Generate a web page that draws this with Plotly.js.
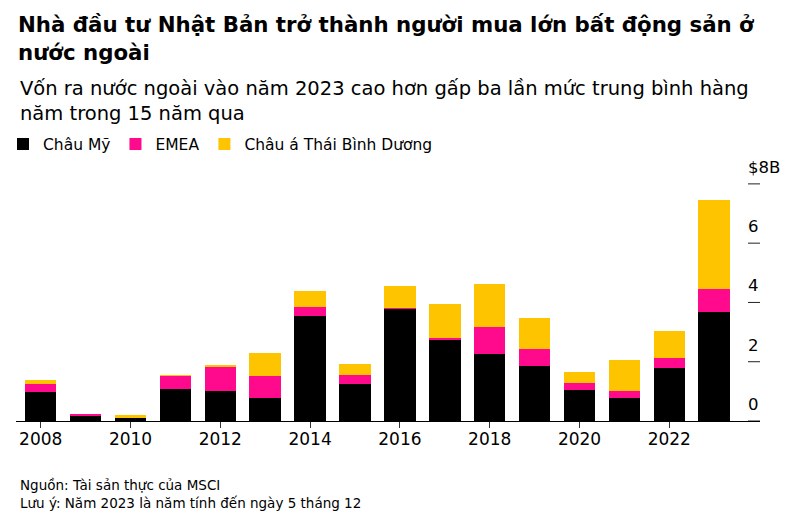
<!DOCTYPE html>
<html>
<head>
<meta charset="utf-8">
<script src="https://cdn.plot.ly/plotly-3.0.1.min.js"></script>
<style>html,body{margin:0;padding:0;background:#fff;}#chart{width:794px;height:528px;}</style>
</head>
<body>
<div id="chart"></div>
<script>
const years = [2008,2009,2010,2011,2012,2013,2014,2015,2016,2017,2018,2019,2020,2021,2022,2023];
const americas = [0.97,0.16,0.09,1.07,1.00,0.77,3.53,1.26,3.77,2.73,2.25,1.85,1.04,0.77,1.78,3.67];
const emea     = [0.27,0.09,0.00,0.45,0.81,0.75,0.30,0.29,0.04,0.06,0.91,0.57,0.25,0.24,0.35,0.78];
const apac     = [0.14,0.00,0.10,0.03,0.09,0.76,0.56,0.36,0.74,1.16,1.45,1.05,0.35,1.04,0.89,3.00];
const seriesNames = ['Châu Mỹ','EMEA','Châu á Thái Bình Dương'];
const xTicks = [2008,2010,2012,2014,2016,2018,2020,2022];
const yTicks = [0,2,4,6,8];
const yTickText = ['0','2','4','6','$8B'];

const FONT = 'DejaVu Sans, Liberation Sans, Arial, sans-serif';
const colors = ['#000000','#ff0a8c','#ffc400'];
const vals = [americas, emea, apac];

const traces = vals.map((v,i)=>({
  type:'bar', x: years, y: v, name: seriesNames[i],
  marker:{color: colors[i], line:{width:0}},
  width: 0.7, hoverinfo:'skip'
}));

const Y_MAX = 8.3, PX_PER_UNIT = 29.625, BASE_Y = 421;
const plotTop = BASE_Y - Y_MAX * PX_PER_UNIT;
const plotH = BASE_Y - plotTop;
const PLOT_L = 16, PLOT_R = 760, plotW = PLOT_R - PLOT_L;
const DASH_LEN = 12;

// short horizontal tick dashes at the right edge, one per y tick value
const tickDashes = yTicks.map(v => ({
  type:'line', xref:'paper', yref:'y',
  x0:1 - DASH_LEN/plotW, x1:1, y0:v, y1:v,
  line:{color:'#222', width:1}, layer:'above'
}));

const layout = {
  width:794, height:528,
  margin:{l:PLOT_L, r:794-PLOT_R, t:plotTop, b:528-BASE_Y, pad:0},
  paper_bgcolor:'#fff', plot_bgcolor:'#fff',
  barmode:'stack',
  font:{family:FONT, color:'#000'},
  title:{
    text:'Nhà đầu tư Nhật Bản trở thành người mua lớn bất động sản ở<br>nước ngoài',
    font:{family:FONT, size:21.3, weight:'bold', color:'#000'},
    xref:'container', yref:'container', x:18/794, xanchor:'left',
    y:1-32/528, yanchor:'middle', pad:{t:0,b:0,l:0,r:0}
  },
  showlegend:true,
  legend:{
    orientation:'h', xref:'container', yref:'container',
    x:3/794, xanchor:'left', y:1-144.5/528, yanchor:'middle',
    font:{family:FONT, size:15.5, color:'#000'},
    traceorder:'normal', bgcolor:'rgba(0,0,0,0)', borderwidth:0,
    itemclick:false, itemdoubleclick:false
  },
  xaxis:{
    range:[2007.45, 2024.02], tickmode:'array', tickvals:xTicks,
    ticks:'outside', ticklen:6, tickwidth:1, tickcolor:'#333',
    showline:true, linecolor:'#000', linewidth:1,
    showgrid:false, zeroline:false, ticklabelstandoff:-3,
    tickfont:{family:FONT, size:17, color:'#000'}, fixedrange:true
  },
  yaxis:{
    side:'right',
    range:[0,Y_MAX], tickmode:'array', tickvals:yTicks, ticktext:yTickText,
    ticks:'', showline:false, showgrid:false, zeroline:false,
    ticklabelposition:'outside', ticklabelstandoff:-13, ticklabelshift:-17,
    tickfont:{family:FONT, size:16.5, color:'#000'}, fixedrange:true
  },
  shapes: tickDashes,
  annotations:[
    {text:'Vốn ra nước ngoài vào năm 2023 cao hơn gấp ba lần mức trung bình hàng<br>năm trong 15 năm qua',
     xref:'paper', yref:'paper', x:2/plotW, xanchor:'left', y:(BASE_Y-101.5)/plotH, yanchor:'middle',
     align:'left', showarrow:false, font:{family:FONT, size:19.5, color:'#000'}},
    {text:'Nguồn: Tài sản thực của MSCI<br>Lưu ý: Năm 2023 là năm tính đến ngày 5 tháng 12',
     xref:'paper', yref:'paper', x:2/plotW, xanchor:'left', y:(BASE_Y-493.5)/plotH, yanchor:'middle',
     align:'left', showarrow:false, font:{family:FONT, size:13.5, color:'#000'}}
  ]
};

Plotly.newPlot('chart', traces, layout, {staticPlot:true, displayModeBar:false});
</script>
</body>
</html>
